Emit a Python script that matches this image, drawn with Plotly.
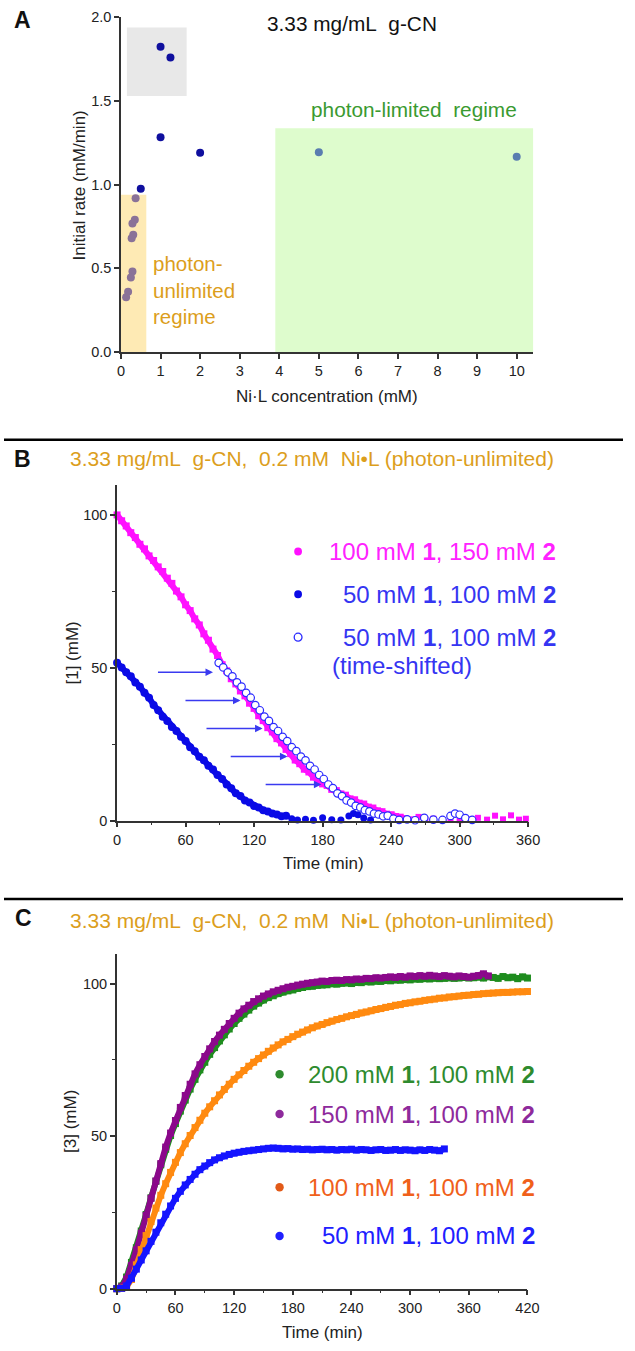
import plotly.graph_objects as go

W, H = 635, 1351
FONT = "Liberation Sans, Arial, sans-serif"

# ---------------- Panel A data ----------------
a_blue_x = [1.0, 1.25, 1.0, 2.0, 0.5]
a_blue_y = [1.824, 1.76, 1.284, 1.19, 0.975]
a_purp_x = [0.37, 0.35, 0.29, 0.31, 0.27, 0.29, 0.25, 0.18, 0.13]
a_purp_y = [0.918, 0.79, 0.767, 0.70, 0.68, 0.48, 0.445, 0.36, 0.327]
a_steel_x = [5.0, 10.0]
a_steel_y = [1.194, 1.166]
a_xticks = list(range(0, 11))
a_yticks = [0.0, 0.5, 1.0, 1.5, 2.0]

# ---------------- Panel B data ----------------
b_step = 4
b_mag_dense = [100.0, 98.1, 96.4, 94.2, 92.6, 90.4, 88.9, 86.6, 85.1, 83.0, 81.5, 79.3,
               77.6, 75.1, 73.2, 70.6, 68.7, 66.0, 64.0, 61.1, 59.0, 56.1, 54.0, 51.0,
               49.0, 46.4, 44.7, 42.4, 40.8, 38.4, 36.7, 34.3, 32.7, 30.4, 29.0, 26.8,
               25.4, 23.3, 21.9, 19.8, 18.6, 16.8, 15.9, 14.2, 13.4, 12.0, 11.5, 10.2,
               9.8, 8.7, 8.3, 7.1, 6.8, 5.7, 5.4, 4.4, 4.1, 3.2, 2.9, 2.1, 1.9, 1.3, 1.1, 0.6]
b_mag_tail_t = [258, 264, 270, 277, 285, 292, 300, 308, 316, 324, 331, 338, 345, 352, 358]
b_mag_tail_y = [0.4, 1.2, 0.3, 0.6, 0.2, 0.5, 0.1, 0.4, 0.9, 0.3, 1.6, 0.4, 1.7, 0.3, 0.6]
b_blue_dense = [51.6, 50.1, 48.5, 47.2, 45.2, 43.8, 41.8, 40.2, 37.8, 36.1, 34.0, 32.6,
                30.6, 29.3, 27.4, 26.0, 24.0, 22.7, 20.9, 19.7, 17.9, 16.7, 14.9, 13.6,
                11.8, 10.6, 8.9, 8.0, 6.6, 5.9, 4.8, 4.3, 3.4, 3.0, 2.3, 2.0, 1.4, 1.6]
b_blue_tail_t = [153, 158, 165, 172, 180, 188, 196, 203, 207, 211, 216, 222]
b_blue_tail_y = [0.6, 0.2, 0.4, 0.1, 0.9, 0.3, 0.2, 1.5, 2.3, 1.9, 0.8, 0.2]
b_time_shift = 89
b_xticks = [0, 60, 120, 180, 240, 300, 360]
b_yticks = [0, 50, 100]
# arrows (start time, end time, level)
b_arrows = [(34.5, 84, 48.5), (58.6, 108.1, 39.3), (77, 127.4, 30.1),
            (98.2, 149.2, 21.0), (128.8, 178.9, 11.8)]

# ---------------- Panel C data ----------------
c_step = 5
c_green = [0.0, 0.9, 3.8, 8.6, 13.4, 18.9, 24.3, 29.8, 35.2, 40.6, 45.7, 50.2, 54.1, 58.2,
           61.8, 65.4, 68.6, 71.7, 74.2, 76.8, 79.0, 81.2, 83.2, 85.1, 86.9, 88.6, 90.0,
           91.3, 92.6, 93.6, 94.6, 95.4, 96.0, 96.7, 97.2, 97.6, 97.9, 98.4, 98.7, 99.0,
           99.1, 99.4, 99.5, 99.6, 99.9, 99.8, 100.1, 100.2, 100.0, 100.4, 100.3, 100.6,
           100.5, 100.8, 100.7, 101.0, 100.9, 101.2, 101.1, 101.3, 101.2, 101.5, 101.4,
           101.6, 101.5, 101.8, 101.6, 101.7, 101.9, 101.7, 101.8, 102.0, 101.8, 101.9,
           102.1, 101.8, 102.2, 102.0, 101.7, 102.3, 101.9, 102.1, 101.6, 102.2, 101.8]
c_purple = [0.0, 0.6, 3.1, 7.6, 12.7, 18.2, 24.0, 29.6, 35.3, 41.0, 46.4, 51.0, 55.1, 59.4,
            63.3, 67.0, 70.4, 73.4, 76.1, 78.6, 81.0, 83.1, 85.0, 86.9, 88.6, 90.3, 91.7,
            92.9, 94.1, 95.0, 95.9, 96.6, 97.3, 97.8, 98.3, 98.8, 99.1, 99.5, 99.8, 100.1,
            100.3, 100.5, 100.8, 100.7, 101.0, 101.1, 101.0, 101.3, 101.2, 101.5, 101.4,
            101.7, 101.6, 101.9, 101.8, 102.0, 102.2, 102.0, 102.3, 102.1, 102.5, 102.3,
            102.6, 102.4, 102.7, 102.5, 102.3, 102.6, 102.4, 102.2, 102.5, 102.3, 102.1,
            102.4, 102.6, 103.2, 102.5]
c_orange = [0.0, 0.1, 0.6, 3.0, 7.8, 12.8, 17.4, 22.0, 26.4, 30.6, 34.4, 38.1, 41.4, 44.6,
            47.5, 50.2, 52.8, 55.2, 57.5, 59.6, 61.6, 63.5, 65.3, 67.0, 68.6, 70.1, 71.5,
            72.9, 74.2, 75.4, 76.6, 77.8, 78.9, 79.9, 80.9, 81.7, 82.6, 83.4, 84.1, 84.8,
            85.5, 86.1, 86.6, 87.2, 87.7, 88.2, 88.6, 89.1, 89.5, 89.9, 90.4, 90.7, 91.1,
            91.5, 91.8, 92.2, 92.5, 92.9, 93.1, 93.5, 93.7, 94.0, 94.2, 94.5, 94.7, 94.9,
            95.2, 95.3, 95.6, 95.7, 95.9, 96.1, 96.2, 96.4, 96.5, 96.7, 96.8, 96.9, 97.0,
            97.1, 97.1, 97.2, 97.3, 97.3, 97.4]
c_blue = [0.0, 0.1, 0.9, 3.4, 6.4, 9.4, 12.4, 15.5, 18.5, 21.6, 24.4, 27.1, 29.6, 31.9,
          34.0, 35.8, 37.5, 39.0, 40.2, 41.3, 42.2, 42.9, 43.5, 44.0, 44.4, 44.7, 45.0,
          45.2, 45.4, 45.6, 45.8, 46.0, 46.1, 46.0, 45.8, 45.9, 45.7, 45.8, 45.6, 45.7,
          45.5, 45.6, 45.7, 45.5, 45.6, 45.4, 45.6, 45.5, 45.7, 45.4, 45.6, 45.5, 45.3,
          45.5, 45.6, 45.3, 45.4, 45.6, 45.3, 45.5, 45.4, 45.2, 45.5, 45.3, 45.6, 45.4,
          45.2, 45.8]
c_xticks = [0, 60, 120, 180, 240, 300, 360, 420]
c_yticks = [0, 50, 100]

# ---------------- helpers ----------------
def px(x):
    return x / W

def py(y):
    return 1 - y / H

def times(vals, step):
    return [step * i for i in range(len(vals))]

fig = go.Figure()

# Panel A traces
fig.add_trace(go.Scatter(x=a_purp_x, y=a_purp_y, mode="markers", xaxis="x", yaxis="y",
                         marker=dict(size=8, color="#8a7298"), showlegend=False))
fig.add_trace(go.Scatter(x=a_blue_x, y=a_blue_y, mode="markers", xaxis="x", yaxis="y",
                         marker=dict(size=8, color="#0f0f9e"), showlegend=False))
fig.add_trace(go.Scatter(x=a_steel_x, y=a_steel_y, mode="markers", xaxis="x", yaxis="y",
                         marker=dict(size=8, color="#5a7db0"), showlegend=False))

# Panel B traces
MAGC = "#ff10ff"
BLUC = "#0a0ae6"
b_mag_t = times(b_mag_dense, b_step)
b_blue_t = times(b_blue_dense, b_step)
fig.add_trace(go.Scatter(x=b_mag_t, y=b_mag_dense, mode="lines+markers", xaxis="x2", yaxis="y2",
                         cliponaxis=False, line=dict(color=MAGC, width=6),
                         marker=dict(size=7, color=MAGC, symbol="square"), showlegend=False))
fig.add_trace(go.Scatter(x=b_mag_tail_t, y=b_mag_tail_y, mode="markers", xaxis="x2", yaxis="y2",
                         cliponaxis=False,
                         marker=dict(size=6, color=MAGC, symbol="square"), showlegend=False))
fig.add_trace(go.Scatter(x=b_blue_t, y=b_blue_dense, mode="lines+markers", xaxis="x2", yaxis="y2",
                         cliponaxis=False, line=dict(color=BLUC, width=6),
                         marker=dict(size=8, color=BLUC), showlegend=False))
fig.add_trace(go.Scatter(x=b_blue_tail_t, y=b_blue_tail_y, mode="markers", xaxis="x2", yaxis="y2",
                         cliponaxis=False,
                         marker=dict(size=7, color=BLUC), showlegend=False))
b_all_blue_t = b_blue_t + b_blue_tail_t
b_all_blue_y = b_blue_dense + b_blue_tail_y
b_shift_t = [t + b_time_shift for t in b_all_blue_t]
fig.add_trace(go.Scatter(x=b_shift_t, y=b_all_blue_y, mode="markers", xaxis="x2", yaxis="y2",
                         cliponaxis=False,
                         marker=dict(size=7.5, color="white", line=dict(color="#2a2aff", width=1.2)),
                         showlegend=False))

# Panel C traces
for vals, col in [(c_green, "#1e8c1e"), (c_purple, "#8b088b"),
                  (c_orange, "#ff8a10"), (c_blue, "#1414ff")]:
    fig.add_trace(go.Scatter(x=times(vals, c_step), y=vals, mode="lines+markers",
                             xaxis="x3", yaxis="y3", cliponaxis=False,
                             line=dict(color=col, width=6),
                             marker=dict(size=7, color=col, symbol="square"), showlegend=False))

axis_common = dict(showline=True, linecolor="#333", linewidth=1.5, ticks="outside",
                   ticklen=5, tickwidth=1.5, tickcolor="#333", showgrid=False, zeroline=False,
                   tickfont=dict(family=FONT, size=14.5, color="#222"))
minor_b = dict(ticks="outside", ticklen=3, tickwidth=1.2, tickcolor="#333")

fig.update_layout(
    width=W, height=H, margin=dict(l=0, r=0, t=0, b=0),
    paper_bgcolor="white", plot_bgcolor="white",
    font=dict(family=FONT),
    xaxis=dict(domain=[px(120), px(543)], range=[0, 10.42], anchor="y",
               tickvals=a_xticks, **axis_common),
    yaxis=dict(domain=[py(348), py(9.5)], range=[0, 2.0], anchor="x",
               tickvals=a_yticks, tickformat=".1f", **axis_common),
    xaxis2=dict(domain=[px(116), px(537.7)], range=[0, 360], anchor="y2",
                tickvals=b_xticks, minor=dict(dtick=30, **minor_b), **axis_common),
    yaxis2=dict(domain=[py(822.3), py(482.7)], range=[0, 109.8], anchor="x2",
                tickvals=b_yticks, minor=dict(dtick=25, **minor_b), **axis_common),
    xaxis3=dict(domain=[px(115.7), px(537)], range=[0, 420], anchor="y3",
                tickvals=c_xticks, minor=dict(dtick=30, **minor_b), **axis_common),
    yaxis3=dict(domain=[py(1296), py(957.3)], range=[0, 109.7], anchor="x3",
                tickvals=c_yticks, minor=dict(dtick=25, **minor_b), **axis_common),
)

shapes = []
# Panel A regions
shapes.append(dict(type="rect", xref="x", yref="y", x0=0.15, x1=1.66, y0=1.53, y1=1.94,
                   fillcolor="#e8e8e8", line=dict(width=0), layer="below"))
shapes.append(dict(type="rect", xref="x", yref="y", x0=0.0, x1=0.64, y0=0.0, y1=0.94,
                   fillcolor="#feeab4", line=dict(width=0), layer="below"))
shapes.append(dict(type="rect", xref="x", yref="y", x0=3.9, x1=10.42, y0=0.0, y1=1.337,
                   fillcolor="#defccd", line=dict(width=0), layer="below"))
# separators
for yy in [437, 901.7]:
    shapes.append(dict(type="line", xref="paper", yref="paper", x0=0, x1=1,
                       y0=py(yy), y1=py(yy), line=dict(color="black", width=2.5)))

def dot(cx, cy, r, fill, line=None):
    d = dict(type="circle", xref="paper", yref="paper",
             x0=px(cx - r), x1=px(cx + r), y0=py(cy + r), y1=py(cy - r),
             fillcolor=fill, line=dict(width=0))
    if line:
        d["line"] = dict(color=line, width=1.3)
    return d

# legend dots B
shapes.append(dot(301.7, 550, 4, MAGC))
shapes.append(dot(301.7, 593.3, 4, BLUC))
shapes.append(dot(301.7, 636.7, 4, "white", line="#2a2aff"))
# legend dots C
shapes.append(dot(282.7, 1079, 4.3, "#2e8b2e"))
shapes.append(dot(282.7, 1119.3, 4.3, "#8e2a9c"))
shapes.append(dot(282.7, 1193.3, 4.3, "#e25a18"))
shapes.append(dot(282.7, 1242.7, 4.3, "#2020ff"))
fig.update_layout(shapes=shapes)

ann = []

def text(x, y, s, size, color="#111", xanchor="center", yanchor="middle", angle=0, align="left"):
    ann.append(dict(x=px(x), y=py(y), xref="paper", yref="paper", text=s, showarrow=False,
                    xanchor=xanchor, yanchor=yanchor, textangle=angle, align=align,
                    font=dict(family=FONT, size=size, color=color)))

NB = "\u00a0"
ORANGE = "#dc9e1c"
LEG = 24
AX = 17
# panel letters
text(8, 12, "<b>A</b>", 23, "#111", xanchor="left")
text(8, 456, "<b>B</b>", 23, "#111", xanchor="left")
text(9, 921, "<b>C</b>", 23, "#111", xanchor="left")

# Panel A texts
text(356.7, 16, "3.33 mg/mL" + NB + NB + "g-CN", 20.8, "#111")
text(421, 103, "photon-limited" + NB + NB + "regime", 20.8, "#3a9a30")
text(151, 285, "photon-<br>unlimited<br>regime", 20.5, ORANGE, xanchor="left")
text(77, 179.5, "Initial rate (mM/min)", AX, "#222", angle=-90)
text(331, 393, "Ni·L concentration (mM)", AX, "#222")

# Panel B texts
title = ("3.33 mg/mL" + NB + NB + "g-CN," + NB + NB + "0.2 mM" + NB + NB +
         "Ni•L (photon-unlimited)")
text(66, 456, title, 21, ORANGE, xanchor="left")
MAG = "#ff22ff"
BLU = "#3535f2"
text(568, 550, "100 mM <b>1</b>, 150 mM <b>2</b>", LEG, MAG, xanchor="right")
text(568, 593.3, "50 mM <b>1</b>, 100 mM <b>2</b>", LEG, BLU, xanchor="right")
text(568, 636.7, "50 mM <b>1</b>, 100 mM <b>2</b>", LEG, BLU, xanchor="right")
text(334, 665, "(time-shifted)", LEG, BLU, xanchor="left")
text(70, 653, "[1] (mM)", AX, "#222", angle=-90)
text(327.5, 866, "Time (min)", AX, "#222")

# Panel C texts
text(66, 923, title, 21, ORANGE, xanchor="left")
text(547, 1079, "200 mM <b>1</b>, 100 mM <b>2</b>", LEG, "#2e8b2e", xanchor="right")
text(547, 1119.3, "150 mM <b>1</b>, 100 mM <b>2</b>", LEG, "#8e2a9c", xanchor="right")
text(547, 1193.3, "100 mM <b>1</b>, 100 mM <b>2</b>", LEG, "#f0601a", xanchor="right")
text(547, 1242.7, "50 mM <b>1</b>, 100 mM <b>2</b>", LEG, "#2020ff", xanchor="right")
text(68, 1127, "[3] (mM)", AX, "#222", angle=-90)
text(327, 1340, "Time (min)", AX, "#222")

# arrows in B
for t0, t1, lvl in b_arrows:
    ann.append(dict(x=t1, y=lvl, xref="x2", yref="y2", ax=t0, ay=lvl, axref="x2", ayref="y2",
                    text="", showarrow=True, arrowhead=2, arrowsize=1, arrowwidth=1.5,
                    arrowcolor="#3a3af0"))

fig.update_layout(annotations=ann)
fig.write_html("out.html", config={"displayModeBar": False},
               post_script="document.body.style.margin='0px';")
